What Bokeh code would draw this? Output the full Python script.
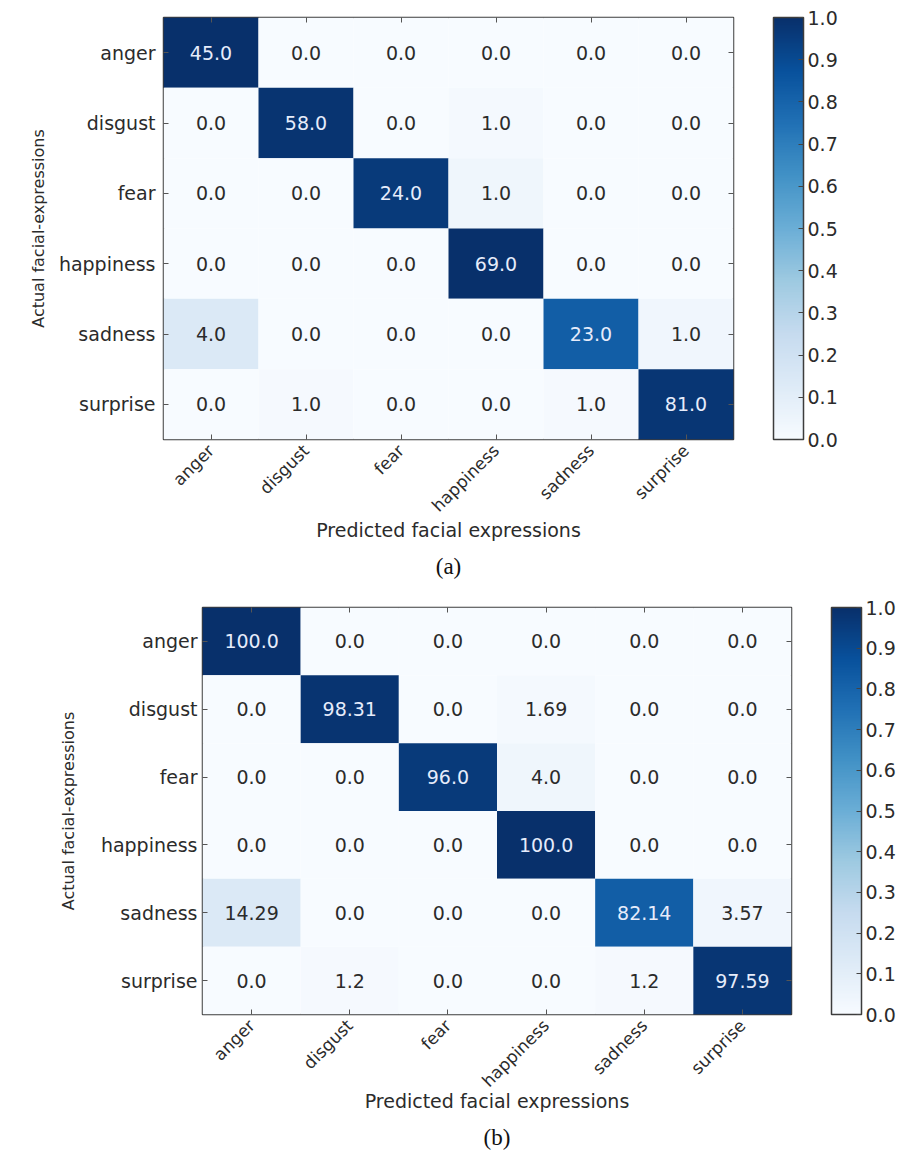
from math import pi

from bokeh.core.properties import value
from bokeh.embed import file_html
from bokeh.models import (CategoricalAxis, ColorBar, ColumnDataSource, FactorRange,
                          FixedTicker, LinearColorMapper, PrintfTickFormatter, Title)
from bokeh.palettes import Blues256
from bokeh.plotting import figure
from bokeh.resources import INLINE

# Expression classes (rows = actual, columns = predicted)
classes = ["anger", "disgust", "fear", "happiness", "sadness", "surprise"]

# (a) raw counts
counts_anger = [45, 0, 0, 0, 0, 0]
counts_disgust = [0, 58, 0, 1, 0, 0]
counts_fear = [0, 0, 24, 1, 0, 0]
counts_happiness = [0, 0, 0, 69, 0, 0]
counts_sadness = [4, 0, 0, 0, 23, 1]
counts_surprise = [0, 1, 0, 0, 1, 81]

# (b) per-class percentages
pct_anger = [100.0, 0.0, 0.0, 0.0, 0.0, 0.0]
pct_disgust = [0.0, 98.31, 0.0, 1.69, 0.0, 0.0]
pct_fear = [0.0, 0.0, 96.0, 4.0, 0.0, 0.0]
pct_happiness = [0.0, 0.0, 0.0, 100.0, 0.0, 0.0]
pct_sadness = [14.29, 0.0, 0.0, 0.0, 82.14, 3.57]
pct_surprise = [0.0, 1.2, 0.0, 0.0, 1.2, 97.59]

colorbar_ticks = [0.0, 0.1, 0.2, 0.3, 0.4, 0.5, 0.6, 0.7, 0.8, 0.9, 1.0]

counts = [counts_anger, counts_disgust, counts_fear,
          counts_happiness, counts_sadness, counts_surprise]
percents = [pct_anger, pct_disgust, pct_fear,
            pct_happiness, pct_sadness, pct_surprise]

FONT = "DejaVu Sans"
TEXT_DARK = "#2b2b2b"
SPINE = "#3c3c3c"


def build_source(matrix, scale):
    """Cells of a confusion matrix; colour comes from the row-normalised value."""
    xs, ys, vals, norm, labels, colors = [], [], [], [], [], []
    for i, actual in enumerate(classes):
        row = matrix[i]
        denom = sum(row) if scale is None else scale
        for j, pred in enumerate(classes):
            v = float(row[j])
            n = v / denom
            xs.append(pred)
            ys.append(actual)
            vals.append(v)
            norm.append(n)
            labels.append(f"{v:.1f}" if scale is None else f"{v}")
            colors.append("#e6ecfb" if n > 0.5 else TEXT_DARK)
    return ColumnDataSource(dict(x=xs, y=ys, v=vals, norm=norm,
                                 label=labels, tcolor=colors))


def confusion_figure(src, left, fw, right, top, fh, bottom, ytick_standoff,
                     ylab_standoff, xlab_standoff, tag, tag_standoff):
    p = figure(x_range=FactorRange(factors=classes),
               y_range=FactorRange(factors=list(reversed(classes))),
               frame_width=fw, frame_height=fh,
               min_border_left=left, min_border_right=right,
               min_border_top=top, min_border_bottom=bottom,
               output_backend="svg", toolbar_location=None,
               background_fill_color="white", border_fill_color="white")
    p.x_range.range_padding = 0
    p.y_range.range_padding = 0

    mapper = LinearColorMapper(palette=list(reversed(Blues256)), low=0.0, high=1.0)
    p.rect(x="x", y="y", width=1, height=1, source=src,
           fill_color={"field": "norm", "transform": mapper}, line_color=None)
    p.text(x="x", y="y", text="label", source=src, text_color="tcolor",
           text_align="center", text_baseline="middle",
           text_font=value(FONT), text_font_size="19px")

    p.grid.visible = False
    p.outline_line_color = SPINE
    p.outline_line_width = 1.5

    for ax in (p.xaxis[0], p.yaxis[0]):
        ax.axis_line_color = None
        ax.major_tick_in = 5
        ax.major_tick_out = 0
        ax.major_tick_line_color = "#555555"
        ax.major_label_text_font = FONT
        ax.major_label_text_color = TEXT_DARK
        ax.axis_label_text_font = FONT
        ax.axis_label_text_font_style = "normal"
        ax.axis_label_text_color = TEXT_DARK

    p.xaxis.axis_label = "Predicted facial expressions"
    p.xaxis.axis_label_text_font_size = "19px"
    p.xaxis.major_label_text_font_size = "17px"
    p.xaxis.major_label_orientation = pi / 4
    p.xaxis.major_label_standoff = 8
    p.xaxis.axis_label_standoff = xlab_standoff

    p.yaxis.axis_label = "Actual facial-expressions"
    p.yaxis.axis_label_text_font_size = "16px"
    p.yaxis.major_label_text_font_size = "19px"
    p.yaxis.major_label_standoff = ytick_standoff
    p.yaxis.axis_label_standoff = ylab_standoff

    # inward ticks on the top and right spines (labels not drawn)
    for side in ("above", "right"):
        ax = CategoricalAxis(axis_line_color=None, major_tick_in=5, major_tick_out=0,
                             major_tick_line_color="#555555",
                             major_label_text_color=None,
                             major_label_text_font_size="1px",
                             major_label_standoff=0)
        p.add_layout(ax, side)

    cb = ColorBar(color_mapper=mapper, width=30, height=fh,
                  padding=0, margin=0, location=(40, 0),
                  ticker=FixedTicker(ticks=colorbar_ticks),
                  formatter=PrintfTickFormatter(format="%.1f"),
                  major_label_text_font=FONT, major_label_text_font_size="19px",
                  major_label_text_color=TEXT_DARK, label_standoff=4,
                  major_tick_in=5, major_tick_out=0, major_tick_line_color="#444444",
                  bar_line_color=SPINE, bar_line_width=1.5,
                  background_fill_color=None, border_line_color=None)
    p.add_layout(cb, "right")

    p.add_layout(Title(text=tag, align="center", text_font="Liberation Serif",
                       text_font_size="23px", text_font_style="normal",
                       text_color="#111111", standoff=tag_standoff), "below")
    return p


src_a = build_source(counts, None)
src_b = build_source(percents, 100.0)

fig_a = confusion_figure(src_a, left=163, fw=570, right=170, top=17, fh=422, bottom=151,
                         ytick_standoff=8, ylab_standoff=8, xlab_standoff=-7,
                         tag="(a)", tag_standoff=16)
fig_b = confusion_figure(src_b, left=202, fw=589, right=112, top=17, fh=407, bottom=137,
                         ytick_standoff=5, ylab_standoff=20, xlab_standoff=-11,
                         tag="(b)", tag_standoff=16)

# two independent roots so each panel keeps its own borders
with open("out.html", "w") as f:
    f.write(file_html([fig_a, fig_b], INLINE))
